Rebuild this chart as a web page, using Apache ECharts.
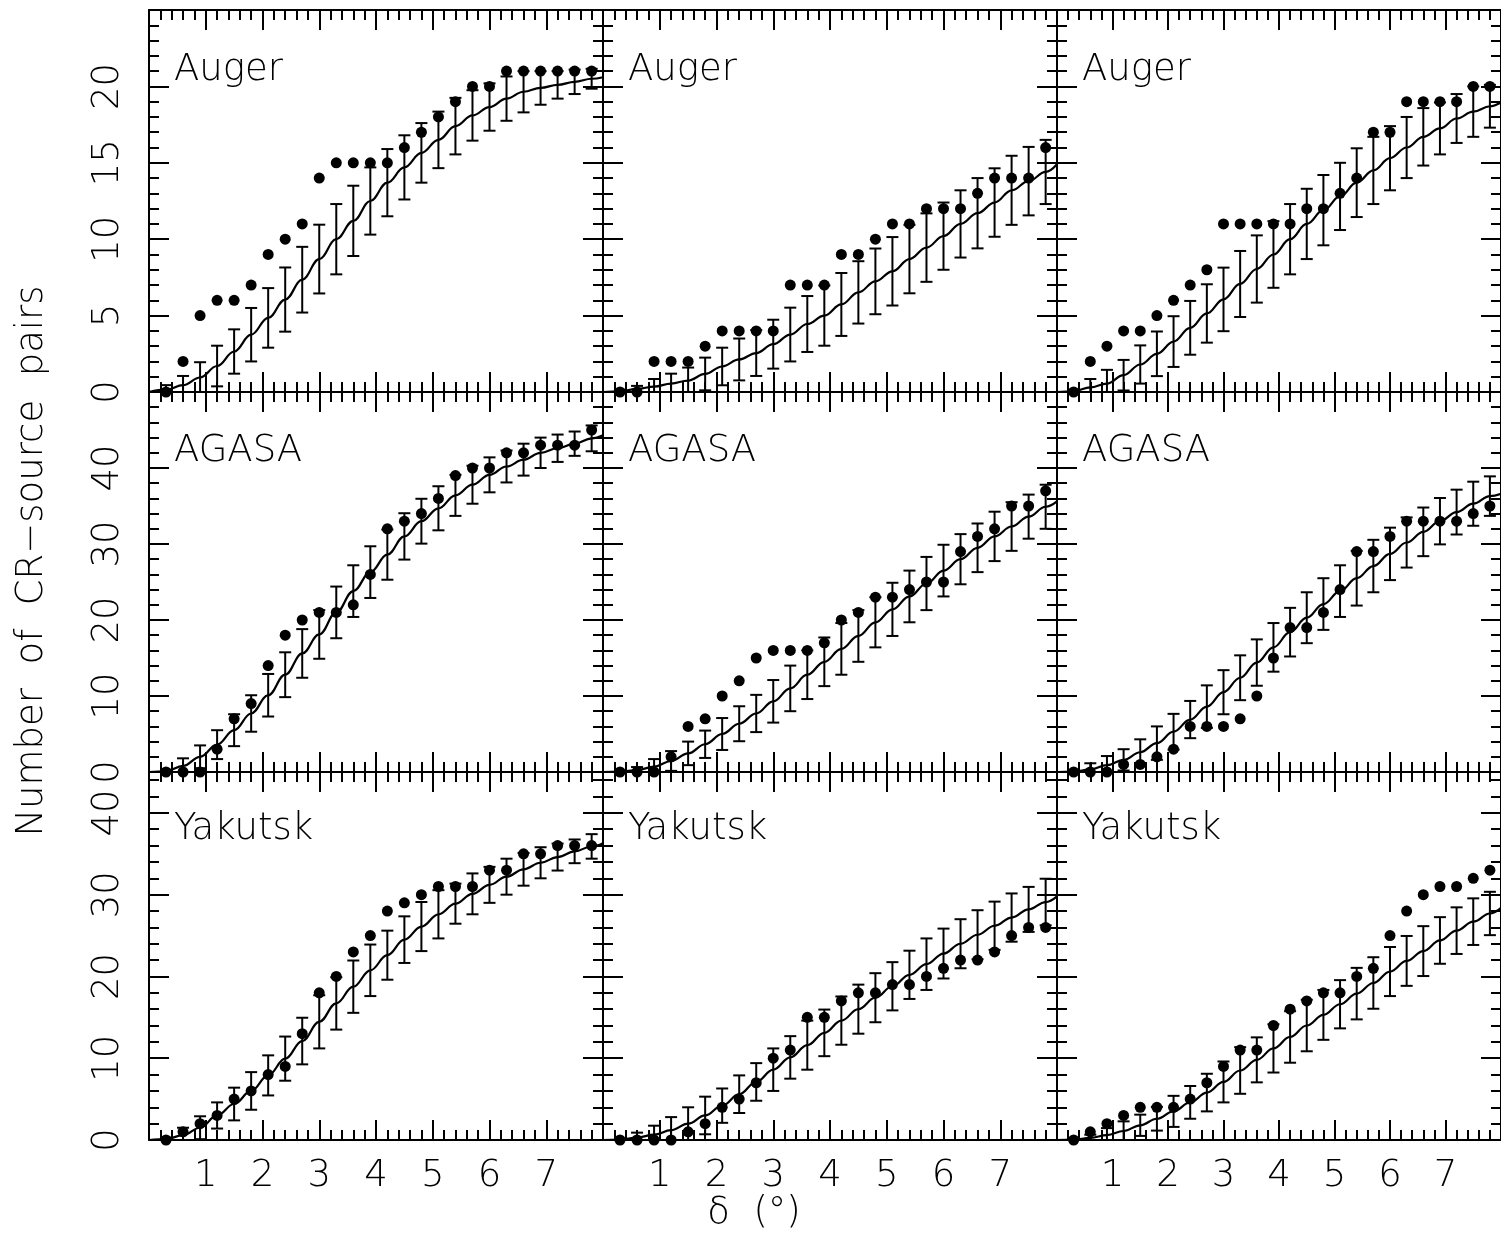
<!DOCTYPE html>
<html>
<head>
<meta charset="utf-8">
<script src="https://cdn.jsdelivr.net/npm/echarts@6/dist/echarts.min.js"></script>
<style>
  html, body { margin: 0; padding: 0; background: #fff; }
  #chart { width: 1501px; height: 1236px; }
</style>
</head>
<body>
<div id="chart"></div>
<script>
// Angular separation δ (degrees) at which pairs are counted
const deltaDeg = [0.3, 0.6, 0.9, 1.2, 1.5, 1.8, 2.1, 2.4, 2.7, 3.0, 3.3, 3.6, 3.9,
                  4.2, 4.5, 4.8, 5.1, 5.4, 5.7, 6.0, 6.3, 6.6, 6.9, 7.2, 7.5, 7.8];

// ---- Auger ----
const augerCol1Counts   = [0, 2, 5, 6, 6, 7, 9, 10, 11, 14, 15, 15, 15, 15, 16, 17, 18, 19, 20, 20, 21, 21, 21, 21, 21, 21];
const augerCol1Expected = [0.15, 0.45, 0.95, 1.7, 2.65, 3.75, 4.85, 6.05, 7.35, 8.7, 10.0, 11.2, 12.5, 13.7, 14.7, 15.65, 16.5, 17.4, 18.1, 18.65, 19.2, 19.65, 19.9, 20.1, 20.3, 20.5];
const augerCol1Spread   = [0.3, 0.6, 1.0, 1.33, 1.45, 1.75, 1.95, 2.1, 2.15, 2.25, 2.3, 2.3, 2.2, 2.2, 2.1, 1.95, 1.85, 1.85, 1.65, 1.55, 1.45, 1.35, 1.1, 0.9, 0.8, 0.65];

const augerCol2Counts   = [0, 0, 2, 2, 2, 3, 4, 4, 4, 4, 7, 7, 7, 9, 9, 10, 11, 11, 12, 12, 12, 13, 14, 14, 14, 16];
const augerCol2Expected = [0.05, 0.2, 0.35, 0.55, 0.75, 1.18, 1.67, 2.13, 2.55, 3.13, 3.76, 4.45, 5.0, 5.73, 6.52, 7.24, 7.9, 8.7, 9.45, 10.2, 11.0, 11.7, 12.4, 13.2, 13.8, 14.4];
const augerCol2Spread   = [0.1, 0.2, 0.5, 0.65, 0.85, 1.07, 1.23, 1.37, 1.5, 1.6, 1.76, 1.83, 1.97, 2.06, 2.04, 2.15, 2.24, 2.24, 2.24, 2.2, 2.2, 2.3, 2.24, 2.26, 2.24, 2.1];

const augerCol3Counts   = [0, 2, 3, 4, 4, 5, 6, 7, 8, 11, 11, 11, 11, 11, 12, 12, 13, 14, 17, 17, 19, 19, 19, 19, 20, 20];
const augerCol3Expected = [0.05, 0.3, 0.55, 1.1, 1.8, 2.5, 3.3, 4.2, 5.14, 6.06, 7.07, 8.05, 9.0, 10.0, 11.0, 11.9, 12.8, 13.7, 14.5, 15.3, 16.0, 16.7, 17.25, 17.9, 18.35, 18.7];
const augerCol3Spread   = [0.1, 0.55, 0.9, 1.0, 1.25, 1.46, 1.66, 1.76, 1.91, 2.08, 2.16, 2.2, 2.18, 2.3, 2.3, 2.3, 2.2, 2.25, 2.2, 2.1, 2.0, 1.88, 1.7, 1.6, 1.65, 1.4];

// ---- AGASA ----
const agasaCol1Counts   = [0, 0, 0, 3, 7, 9, 14, 18, 20, 21, 21, 22, 26, 32, 33, 34, 36, 39, 40, 40, 42, 42, 43, 43, 43, 45];
const agasaCol1Expected = [0.1, 0.8, 2.0, 3.6, 5.5, 7.7, 10.1, 12.8, 15.6, 18.1, 21.0, 23.8, 26.3, 28.6, 31.0, 33.0, 34.7, 36.4, 37.8, 39.1, 40.2, 41.1, 42.0, 42.6, 43.2, 43.9];
const agasaCol1Spread   = [0.2, 1.0, 1.5, 1.9, 2.1, 2.4, 2.8, 2.95, 3.2, 3.2, 3.4, 3.4, 3.4, 3.3, 3.05, 2.95, 2.9, 2.7, 2.5, 2.3, 2.1, 2.1, 2.0, 1.8, 1.6, 1.7];

const agasaCol2Counts   = [0, 0, 0, 2, 6, 7, 10, 12, 15, 16, 16, 16, 17, 20, 21, 23, 23, 24, 25, 25, 29, 31, 32, 35, 35, 37];
const agasaCol2Expected = [0.05, 0.25, 0.7, 1.45, 2.45, 3.65, 5.0, 6.35, 7.7, 9.3, 11.0, 12.8, 14.5, 16.2, 17.9, 19.7, 21.4, 23.1, 24.8, 26.5, 28.0, 29.5, 31.0, 32.3, 33.6, 34.9];
const agasaCol2Spread   = [0.1, 0.4, 1.0, 1.3, 1.55, 1.8, 2.1, 2.3, 2.45, 2.8, 3.0, 3.2, 3.2, 3.4, 3.4, 3.3, 3.5, 3.4, 3.5, 3.4, 3.3, 3.2, 3.25, 3.2, 2.9, 2.9];

const agasaCol3Counts   = [0, 0, 0, 1, 1, 2, 3, 6, 6, 6, 7, 10, 15, 19, 19, 21, 24, 29, 29, 31, 33, 33, 33, 33, 34, 35];
const agasaCol3Expected = [0.05, 0.35, 0.9, 1.6, 2.6, 3.8, 5.3, 6.9, 8.6, 10.5, 12.4, 14.4, 16.4, 18.4, 20.3, 22.1, 23.8, 25.5, 27.1, 28.7, 30.2, 31.6, 33.0, 34.2, 35.3, 36.3];
const agasaCol3Spread   = [0.1, 0.8, 1.2, 1.4, 1.7, 2.2, 2.35, 2.45, 2.8, 2.9, 2.95, 3.05, 3.2, 3.2, 3.35, 3.4, 3.4, 3.6, 3.45, 3.45, 3.3, 3.2, 3.05, 2.95, 2.9, 2.6];

// ---- Yakutsk ----
const yakutskCol1Counts   = [0, 1, 2, 3, 5, 6, 8, 9, 13, 18, 20, 23, 25, 28, 29, 30, 31, 31, 31, 33, 33, 35, 35, 36, 36, 36];
const yakutskCol1Expected = [0.1, 0.6, 1.5, 3.0, 4.4, 6.0, 7.9, 9.95, 12.1, 14.45, 16.7, 18.75, 20.75, 22.6, 24.5, 26.1, 27.6, 28.9, 30.1, 31.2, 32.2, 33.1, 33.9, 34.6, 35.3, 35.9];
const yakutskCol1Spread   = [0.2, 0.9, 1.4, 1.6, 2.0, 2.3, 2.45, 2.7, 2.85, 3.25, 3.2, 3.2, 3.15, 3.0, 2.85, 3.0, 2.95, 2.45, 2.5, 2.2, 2.2, 2.0, 1.9, 1.65, 1.45, 1.5];

const yakutskCol2Counts   = [0, 0, 0, 0, 1, 2, 4, 5, 7, 10, 11, 15, 15, 17, 18, 18, 19, 19, 20, 21, 22, 22, 23, 25, 26, 26];
const yakutskCol2Expected = [0.05, 0.3, 0.65, 1.2, 2.0, 3.0, 4.2, 5.6, 7.1, 8.6, 10.1, 11.6, 13.1, 14.6, 16.0, 17.4, 18.8, 20.2, 21.5, 22.8, 24.0, 25.1, 26.2, 27.2, 28.2, 29.1];
const yakutskCol2Spread   = [0.1, 0.6, 1.1, 1.6, 2.0, 2.3, 2.1, 2.3, 2.3, 2.6, 2.6, 3.0, 2.85, 2.95, 3.0, 3.0, 2.95, 2.95, 3.15, 3.05, 3.0, 3.0, 2.95, 2.95, 2.75, 2.85];

const yakutskCol3Counts   = [0, 1, 2, 3, 4, 4, 4, 5, 7, 9, 11, 11, 14, 16, 17, 18, 18, 20, 21, 25, 28, 30, 31, 31, 32, 33];
const yakutskCol3Expected = [0.05, 0.25, 0.6, 1.1, 1.8, 2.6, 3.5, 4.6, 5.8, 7.1, 8.5, 9.8, 11.2, 12.6, 14.0, 15.3, 16.6, 17.9, 19.2, 20.6, 21.9, 23.1, 24.4, 25.6, 26.7, 27.7];
const yakutskCol3Spread   = [0.1, 0.4, 0.85, 1.18, 1.3, 1.45, 1.9, 2.0, 2.3, 2.5, 2.85, 2.75, 2.95, 3.15, 3.15, 3.05, 2.95, 3.15, 3.15, 3.0, 3.05, 3.05, 2.85, 2.85, 2.85, 2.65];

// Expected curve value at δ = 8°, panel order row by row
const curveAtEdge = [20.6, 14.9, 18.95, 44.3, 35.6, 36.6, 36.3, 29.8, 28.4];

const experiments = ['Auger', 'AGASA', 'Yakutsk'];
const xTickLabels = ['1', '2', '3', '4', '5', '6', '7'];

const panelData = [
  [augerCol1Counts, augerCol1Expected, augerCol1Spread],
  [augerCol2Counts, augerCol2Expected, augerCol2Spread],
  [augerCol3Counts, augerCol3Expected, augerCol3Spread],
  [agasaCol1Counts, agasaCol1Expected, agasaCol1Spread],
  [agasaCol2Counts, agasaCol2Expected, agasaCol2Spread],
  [agasaCol3Counts, agasaCol3Expected, agasaCol3Spread],
  [yakutskCol1Counts, yakutskCol1Expected, yakutskCol1Spread],
  [yakutskCol2Counts, yakutskCol2Expected, yakutskCol2Spread],
  [yakutskCol3Counts, yakutskCol3Expected, yakutskCol3Spread]
];

// ---- layout ----
const FONT = '"DejaVu Sans ExtraLight", "DejaVu Sans"';
const WEIGHT = 200;
const FONT_SPEC = WEIGHT + ' 37px ' + FONT;
const colLeft = [149, 603, 1057];
const colWidth = 454;
const rowTop = [10, 392, 772];
const rowHeight = [382, 380, 368];
const rowYMax = [25, 50, 45];
const rowYStep = [5, 10, 10];
const nameOffset = [42, 41, 39];

const ink = '#000';
const lineCommon = { show: true, onZero: false, lineStyle: { color: ink, width: 2 } };
const tickCommon = { show: true, inside: true, length: 20, lineStyle: { color: ink, width: 2 } };
const minorCommon = { show: true, splitNumber: 5, length: 10, lineStyle: { color: ink, width: 2 } };

const grids = [], xAxes = [], yAxes = [], series = [], graphics = [];

for (let r = 0; r < 3; r++) {
  for (let c = 0; c < 3; c++) {
    const p = r * 3 + c;
    grids.push({ left: colLeft[c], top: rowTop[r], width: colWidth, height: rowHeight[r], show: false });

    // bottom and top x axes
    xAxes.push({
      type: 'value', gridIndex: p, position: 'bottom', min: 0, max: 8, interval: 1,
      axisLine: lineCommon, axisTick: tickCommon, minorTick: minorCommon, splitLine: { show: false },
      axisLabel: {
        show: r === 2, color: ink, fontFamily: FONT, fontWeight: WEIGHT, fontSize: 37, margin: 18,
        showMinLabel: false, showMaxLabel: false,
        formatter: v => xTickLabels.includes(String(v)) ? String(v) : ''
      }
    });
    xAxes.push({
      type: 'value', gridIndex: p, position: 'top', min: 0, max: 8, interval: 1,
      axisLine: lineCommon, axisTick: tickCommon, minorTick: minorCommon, splitLine: { show: false },
      axisLabel: { show: false }
    });

    // left and right y axes
    yAxes.push({
      type: 'value', gridIndex: p, position: 'left', min: 0, max: rowYMax[r], interval: rowYStep[r],
      axisLine: lineCommon, axisTick: tickCommon, minorTick: minorCommon, splitLine: { show: false },
      axisLabel: {
        show: c === 0, color: ink, fontFamily: FONT, fontWeight: WEIGHT, fontSize: 37, margin: 22, rotate: 90,
        showMaxLabel: false
      }
    });
    yAxes.push({
      type: 'value', gridIndex: p, position: 'right', min: 0, max: rowYMax[r], interval: rowYStep[r],
      axisLine: lineCommon, axisTick: tickCommon, minorTick: minorCommon, splitLine: { show: false },
      axisLabel: { show: false }
    });

    const [counts, expected, spread] = panelData[p];

    // expected curve
    series.push({
      type: 'line', xAxisIndex: 2 * p, yAxisIndex: 2 * p,
      data: [[0, 0]].concat(deltaDeg.map((d, i) => [d, expected[i]])).concat([[8, curveAtEdge[p]]]),
      smooth: 0.4, smoothMonotone: 'x', showSymbol: false, clip: true,
      lineStyle: { color: ink, width: 2.2 }, z: 2, silent: true
    });

    // ±1σ bars around the expectation
    series.push({
      type: 'custom', xAxisIndex: 2 * p, yAxisIndex: 2 * p, clip: true, z: 2, silent: true,
      data: deltaDeg.map((d, i) => [d, expected[i] - spread[i], expected[i] + spread[i]]),
      renderItem: (params, api) => {
        const lo = api.coord([api.value(0), api.value(1)]);
        const hi = api.coord([api.value(0), api.value(2)]);
        const st = { stroke: ink, lineWidth: 2 };
        const w = 6;
        return {
          type: 'group',
          children: [
            { type: 'line', shape: { x1: lo[0], y1: lo[1], x2: hi[0], y2: hi[1] }, style: st },
            { type: 'line', shape: { x1: lo[0] - w, y1: lo[1], x2: lo[0] + w, y2: lo[1] }, style: st },
            { type: 'line', shape: { x1: hi[0] - w, y1: hi[1], x2: hi[0] + w, y2: hi[1] }, style: st }
          ]
        };
      }
    });

    // observed pair counts
    series.push({
      type: 'scatter', xAxisIndex: 2 * p, yAxisIndex: 2 * p, clip: false, z: 3, silent: true,
      data: deltaDeg.map((d, i) => [d, counts[i]]),
      symbol: 'circle', symbolSize: 11, itemStyle: { color: ink, opacity: 1 }
    });

    // experiment name inside the panel
    graphics.push({
      type: 'text', left: colLeft[c] + 25, top: rowTop[r] + nameOffset[r],
      style: { text: experiments[r], fill: ink, font: FONT_SPEC }
    });
  }
}

graphics.push({
  type: 'text', x: 32, y: 561, rotation: Math.PI / 2,
  style: { text: 'Number  of  CR\u2212source  pairs', fill: ink, font: FONT_SPEC, align: 'center', verticalAlign: 'middle' }
});
graphics.push({
  type: 'text', x: 754, y: 1213,
  style: { text: '\u03b4  (\u00b0)', fill: ink, font: FONT_SPEC, align: 'center', verticalAlign: 'middle' }
});

const chart = echarts.init(document.getElementById('chart'), null, { renderer: 'canvas' });
chart.setOption({
  backgroundColor: '#fff',
  animation: false,
  grid: grids,
  xAxis: xAxes,
  yAxis: yAxes,
  series: series,
  graphic: graphics
});
</script>
</body>
</html>
